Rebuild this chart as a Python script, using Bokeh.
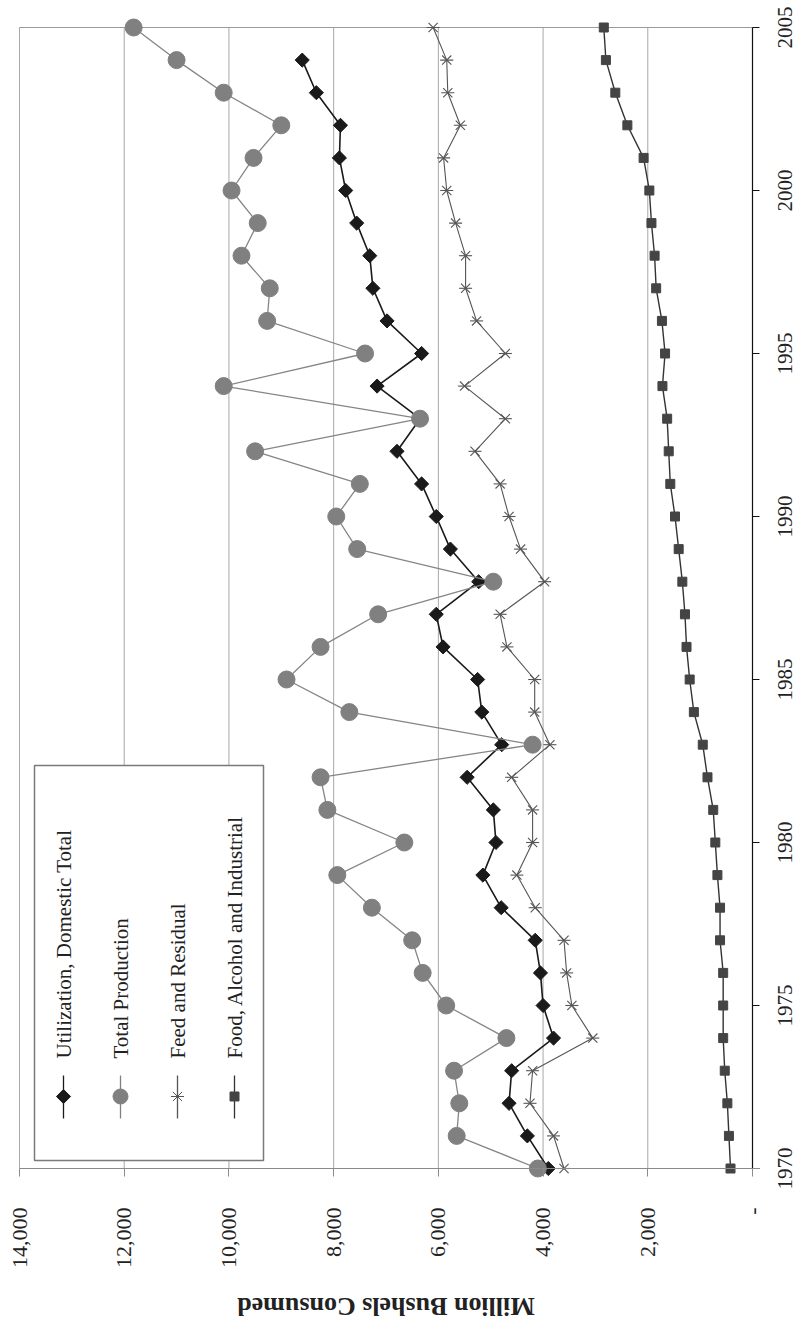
import math
from bokeh.plotting import figure
from bokeh.models import Range1d, FixedTicker
from bokeh.core.properties import value
from bokeh.embed import file_html
from bokeh.resources import INLINE

# ---------------- data (million bushels) ----------------
years = list(range(1970, 2006))
util_years = list(range(1970, 2005))
utilization = [3900, 4300, 4650, 4600, 3800, 4000, 4050, 4150, 4800, 5150,
               4900, 4950, 5450, 4790, 5170, 5250, 5910, 6040, 5230, 5770,
               6040, 6320, 6790, 6350, 7170, 6320, 6980, 7250, 7310, 7560,
               7770, 7890, 7870, 8330, 8600]
total_production = [4100, 5650, 5600, 5700, 4700, 5850, 6300, 6500, 7270, 7930,
                    6650, 8120, 8250, 4200, 7700, 8900, 8250, 7150, 4950, 7550,
                    7950, 7500, 9500, 6350, 10100, 7400, 9270, 9220, 9760, 9450,
                    9950, 9530, 9000, 10100, 11000, 11820]
feed_residual = [3600, 3800, 4250, 4200, 3050, 3450, 3550, 3600, 4150, 4500,
                 4200, 4200, 4600, 3870, 4160, 4160, 4690, 4820, 3970, 4430,
                 4650, 4820, 5300, 4720, 5500, 4720, 5270, 5480, 5480, 5670,
                 5840, 5900, 5580, 5820, 5840, 6100]
food_alcohol_industrial = [420, 450, 480, 530, 560, 560, 560, 620, 620, 670,
                           710, 750, 860, 950, 1120, 1200, 1260, 1290, 1340, 1410,
                           1480, 1570, 1600, 1630, 1720, 1670, 1730, 1840, 1870, 1930,
                           1970, 2080, 2390, 2620, 2800, 2840]

value_ticks = [0, 2000, 4000, 6000, 8000, 10000, 12000, 14000]
value_tick_labels = ["-", "2,000", "4,000", "6,000", "8,000", "10,000", "12,000", "14,000"]
year_ticks = [1970, 1975, 1980, 1985, 1990, 1995, 2000, 2005]
year_tick_labels = [str(y) for y in year_ticks]
series_names = ["Utilization, Domestic Total", "Total Production",
                "Feed and Residual", "Food, Alcohol and Industrial"]
axis_title = "Million Bushels Consumed"

# ---------------- layout (picture pixels) ----------------
W, H = 798, 1322
VMAX, Y0, Y1 = 14000, 1970, 2005
AX_L, AX_R = 19, 752        # x pixel of 14,000 and of 0
AX_T, AX_B = 27, 1168       # y pixel of 2005 and of 1970


def vx(px):
    """picture x pixel -> value coordinate"""
    return VMAX * (AX_R - px) / (AX_R - AX_L)


def yy(py):
    """picture y pixel -> year coordinate"""
    return Y1 - (Y1 - Y0) * (py - AX_T) / (AX_B - AX_T)


FONT = "Liberation Serif"
GRID = "#a8a8a8"
INK = "#222222"

# the frame covers the whole canvas; the axes sit at fixed data locations
p = figure(width=W, height=H, output_backend="svg", toolbar_location=None,
           x_range=Range1d(vx(0), vx(W)), y_range=Range1d(yy(H), yy(0)),
           min_border=0, y_axis_location=None)
p.background_fill_color = "white"
p.border_fill_color = "white"
p.outline_line_color = None
p.xgrid.visible = False
p.ygrid.visible = False

# value axis along 1970
xa = p.xaxis[0]
xa.fixed_location = Y0
xa.ticker = FixedTicker(ticks=value_ticks)
xa.bounds = (vx(AX_R + 7), VMAX)
xa.major_label_overrides = {v: s for v, s in zip(value_ticks, value_tick_labels)}
xa.major_label_orientation = math.pi / 2
xa.major_label_text_font = FONT
xa.major_label_text_font_size = "22px"
xa.major_label_text_color = INK
xa.major_label_standoff = 31
xa.major_tick_in = 0
xa.major_tick_out = 8
xa.minor_tick_in = 0
xa.minor_tick_out = 0
xa.axis_line_color = "#8a8a8a"
xa.major_tick_line_color = "#8a8a8a"

# vertical grid lines at the value ticks, and the top edge at 2005
p.segment(x0=value_ticks, x1=value_ticks, y0=[Y0] * len(value_ticks),
          y1=[Y1] * len(value_ticks), line_color=GRID, line_width=1)
p.segment(x0=[VMAX], x1=[0], y0=[Y1], y1=[Y1], line_color="#9a9a9a", line_width=1)

# year axis at value 0: line, outward ticks and rotated labels
p.segment(x0=[0], x1=[0], y0=[Y0], y1=[Y1], line_color="#111111", line_width=1.2)
p.segment(x0=[0] * len(year_ticks), x1=[vx(AX_R + 7)] * len(year_ticks),
          y0=year_ticks, y1=year_ticks, line_color="#111111", line_width=1)
p.text(x=[vx(784)] * len(year_ticks), y=year_ticks, text=year_tick_labels,
       angle=math.pi / 2, text_align="center", text_baseline="middle",
       text_font=value(FONT), text_font_size="21px", text_color=INK)

# axis title, upside down under the value labels
p.text(x=[VMAX / 2], y=[yy(1306)], text=[axis_title], angle=math.pi,
       text_align="center", text_baseline="middle", text_font=value(FONT),
       text_font_style="bold", text_font_size="26px", text_color=INK)

# legend box (drawn before the series)
p.quad(left=[vx(34)], right=[vx(263)], top=[yy(765)], bottom=[yy(1160)],
       fill_color="white", line_color="#7a7a7a", line_width=1.5)

# series (x = value, y = year: the chart is turned on its side)
p.line(food_alcohol_industrial, years, line_color="#333333", line_width=1.4)
p.scatter(food_alcohol_industrial, years, marker="square", size=9,
          fill_color="#444444", line_color="#444444")

p.line(feed_residual, years, line_color="#555555", line_width=1.1)
p.scatter(feed_residual, years, marker="x", size=13, line_color="#555555", line_width=1.1)
p.scatter(feed_residual, years, marker="dash", size=13, line_color="#555555", line_width=1.1)

p.line(utilization, util_years, line_color="#1a1a1a", line_width=1.6)
p.scatter(utilization, util_years, marker="square", angle=math.pi / 4, size=10,
          fill_color="#1a1a1a", line_color="#1a1a1a")

p.line(total_production, years, line_color="#858585", line_width=1.3)
p.scatter(total_production, years, marker="circle", size=17,
          fill_color="#808080", line_color="#808080")

# legend entries
entry_px = [63, 120, 177, 234]
for i, (px, name) in enumerate(zip(entry_px, series_names)):
    xv = vx(px)
    col = ["#1a1a1a", "#808080", "#555555", "#333333"][i]
    p.segment(x0=[xv], y0=[yy(1075)], x1=[xv], y1=[yy(1118)], line_color=col,
              line_width=1.3)
    if i == 0:
        p.scatter([xv], [yy(1096)], marker="square", angle=math.pi / 4, size=10,
                  fill_color="#1a1a1a", line_color="#1a1a1a")
    elif i == 1:
        p.scatter([xv], [yy(1096)], marker="circle", size=15,
                  fill_color="#808080", line_color="#808080")
    elif i == 2:
        p.scatter([xv], [yy(1096)], marker="x", size=13, line_color="#555555")
        p.scatter([xv], [yy(1096)], marker="dash", size=13, line_color="#555555")
    else:
        p.scatter([xv], [yy(1096)], marker="square", size=9,
                  fill_color="#444444", line_color="#444444")
    p.text(x=[xv], y=[yy(1058)], text=[name], angle=math.pi / 2,
           text_align="left", text_baseline="middle",
           text_font=value(FONT), text_font_size="21px", text_color=INK)

open("out.html", "w").write(file_html(p, INLINE))
